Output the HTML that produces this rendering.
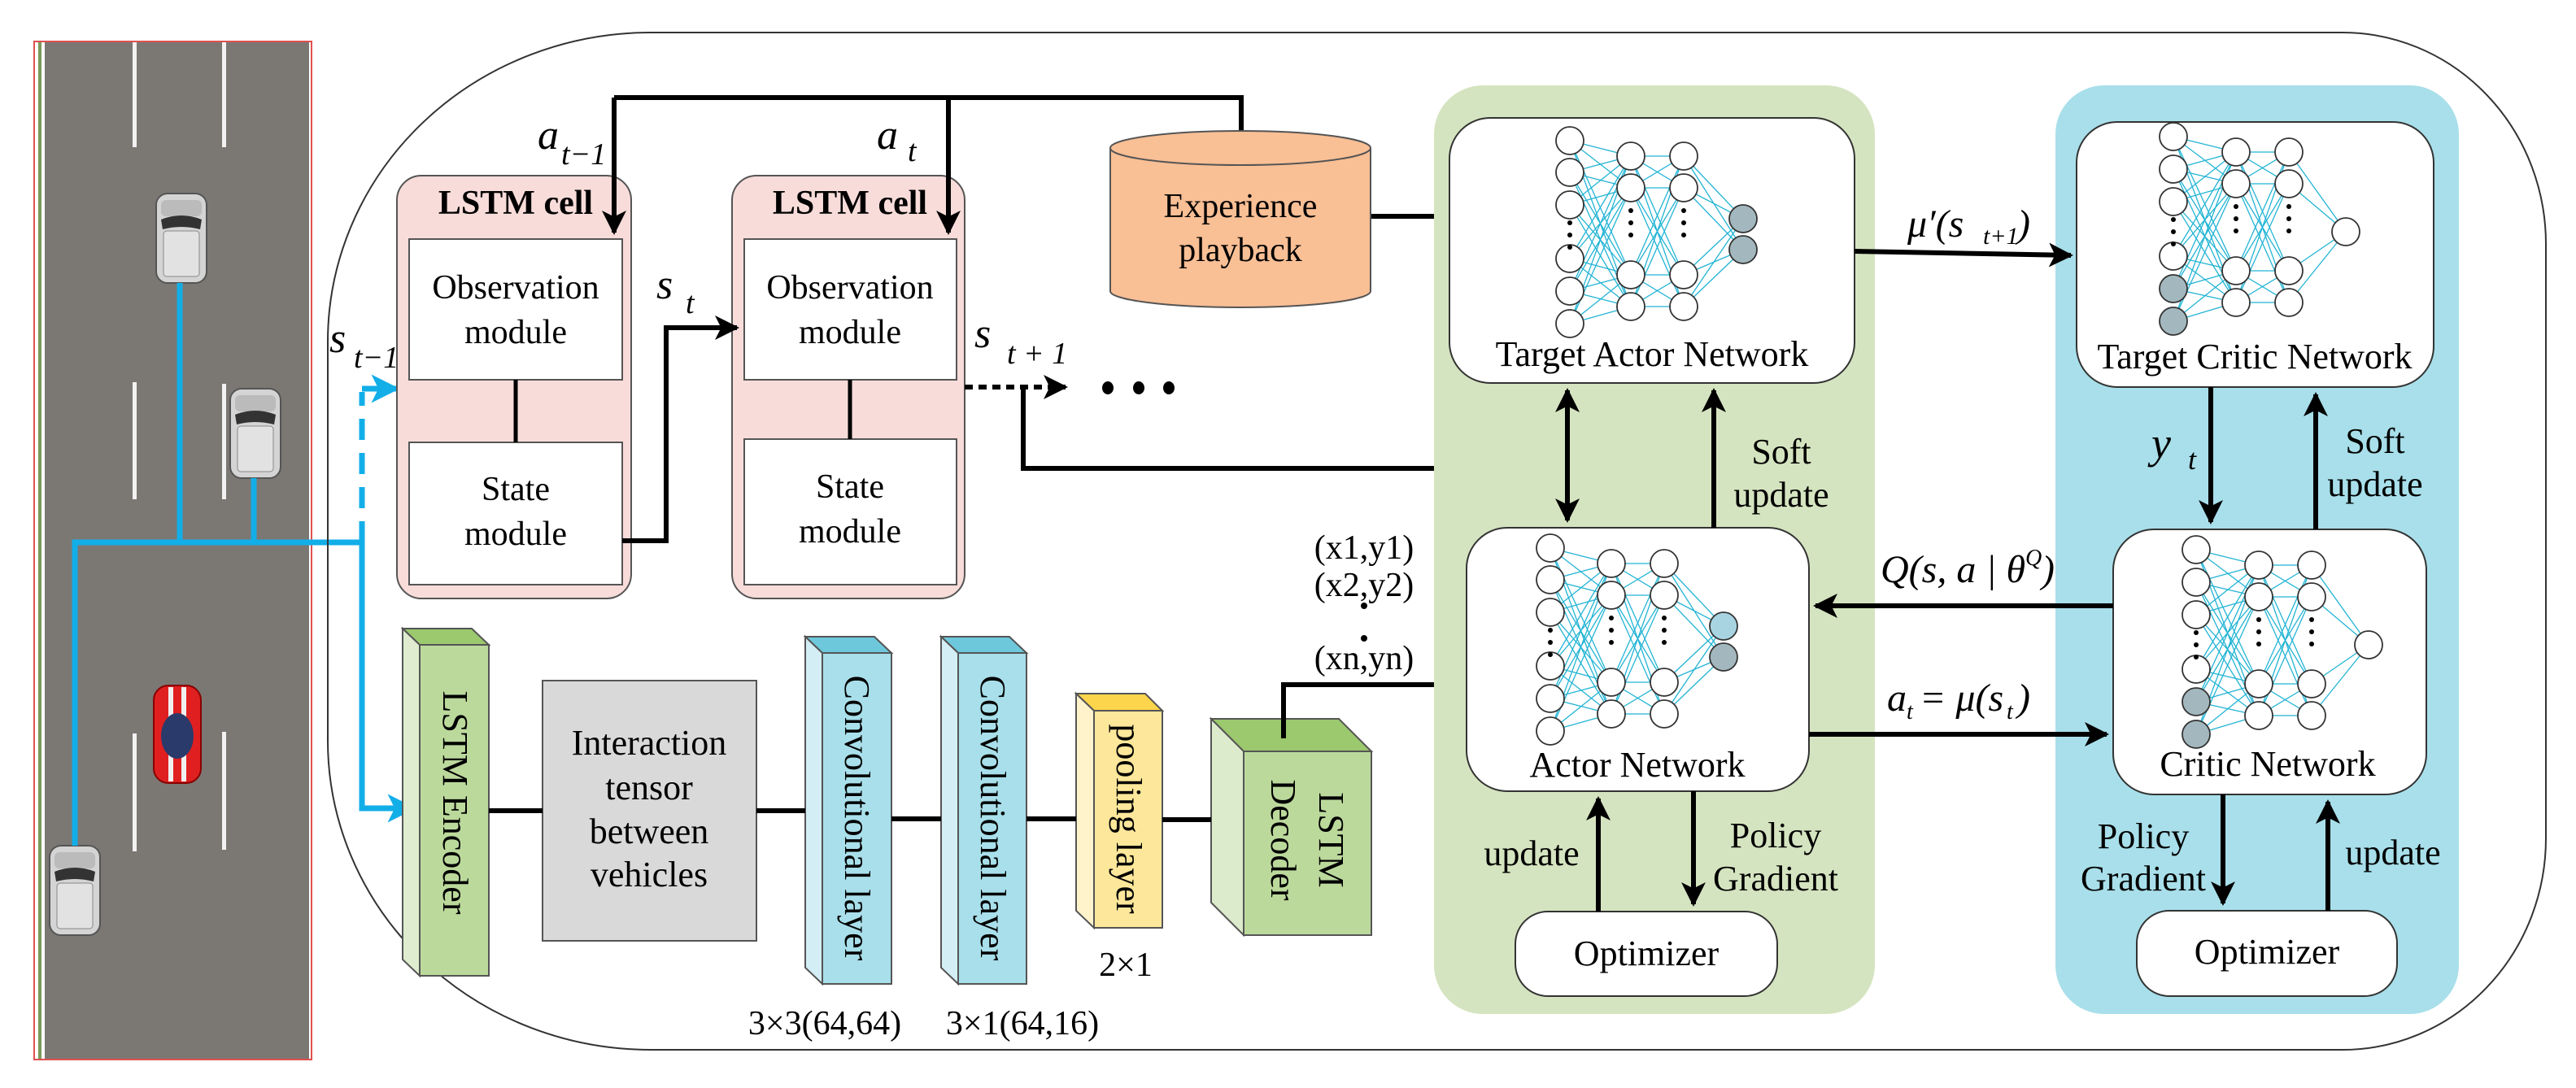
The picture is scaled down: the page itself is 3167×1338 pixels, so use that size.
<!DOCTYPE html>
<html><head><meta charset="utf-8"><style>
html,body{margin:0;padding:0;background:#fff;font-family:"Liberation Serif",serif;}
svg{display:block;font-family:"Liberation Serif",serif;}
svg text, svg tspan{font-family:"Liberation Serif",serif !important;fill:#000;}
.it{font-style:italic;}
</style></head><body>
<svg id="s" width="3167" height="1338" viewBox="0 0 3167 1338" xmlns="http://www.w3.org/2000/svg" font-family="Liberation Serif, serif">
<defs>
<marker id="ah" viewBox="0 0 10 10" refX="9" refY="5" markerWidth="5" markerHeight="5" orient="auto" markerUnits="strokeWidth"><path d="M0,0 L10,5 L0,10 L2.5,5 z" fill="#000"/></marker>
<marker id="ahb" viewBox="0 0 10 10" refX="9" refY="5" markerWidth="5" markerHeight="5" orient="auto" markerUnits="strokeWidth"><path d="M0,0 L10,5 L0,10 L2.5,5 z" fill="#12aee8"/></marker>
<g id="car">
<rect x="0" y="0" width="62" height="110" rx="14" fill="#d4d4d4" stroke="#555" stroke-width="2"/>
<rect x="6" y="8" width="50" height="20" rx="6" fill="#bbb"/>
<path d="M6,32 Q31,22 56,32 L54,44 Q31,38 8,44 z" fill="#333"/>
<rect x="9" y="46" width="44" height="56" rx="4" fill="#e2e2e2" stroke="#888" stroke-width="1"/>
</g>
</defs>

<rect x="42" y="51" width="341" height="1252" fill="#fff" stroke="#e05050" stroke-width="2"/>
<rect x="47" y="52" width="4" height="1250" fill="#7a9a5a"/>
<rect x="55" y="52" width="325" height="1250" fill="#7b7874"/>
<g fill="#f2f2f2">
<rect x="163" y="52" width="5" height="129"/><rect x="273" y="52" width="5" height="129"/>
<rect x="163" y="470" width="5" height="144"/><rect x="273" y="472" width="5" height="142"/>
<rect x="163" y="902" width="5" height="145"/><rect x="273" y="900" width="5" height="145"/>
</g>
<use href="#car" x="192" y="238"/>
<use href="#car" x="283" y="478"/>
<use href="#car" x="61" y="1040"/>
<g>
<rect x="189" y="843" width="58" height="120" rx="18" fill="#e02020" stroke="#800" stroke-width="2"/>
<rect x="207" y="845" width="6" height="116" fill="#f0f0f0"/><rect x="223" y="845" width="6" height="116" fill="#f0f0f0"/>
<ellipse cx="218" cy="905" rx="20" ry="28" fill="#2a3a6a"/>
</g>

<g stroke="#12aee8" stroke-width="7" fill="none">
<path d="M221,348 V667 M312,588 V667 M92,1040 V667 H445 V994 H505" />
<path d="M505,994 H508" marker-end="url(#ahb)"/>
<path d="M445,667 V482" stroke-dasharray="26,16"/>
<path d="M445,478 H488" marker-end="url(#ahb)"/>
</g>

<path d="M800,40 H2880 A250,260 0 0 1 3130,300 V1030 A250,260 0 0 1 2880,1291 H800 A397,380 0 0 1 403,911 V420 A397,380 0 0 1 800,40 z" fill="none" stroke="#333" stroke-width="2"/>

<g stroke="#555" stroke-width="2">
<rect x="488" y="216" width="288" height="520" rx="30" fill="#f7dcda"/>
<rect x="503" y="294" width="262" height="173" fill="#fff"/>
<rect x="503" y="544" width="262" height="175" fill="#fff"/>
<rect x="900" y="216" width="286" height="520" rx="30" fill="#f7dcda"/>
<rect x="915" y="294" width="261" height="173" fill="#fff"/>
<rect x="915" y="540" width="261" height="179" fill="#fff"/>
</g>
<g stroke="#000" stroke-width="5"><path d="M634,467 V544 M1045,467 V540"/></g>
<g font-size="42" text-anchor="middle">
<text x="634" y="263" font-weight="bold">LSTM cell</text>
<text x="1045" y="263" font-weight="bold">LSTM cell</text>
<text x="634" y="367">Observation</text><text x="634" y="422">module</text>
<text x="634" y="615">State</text><text x="634" y="670">module</text>
<text x="1045" y="367">Observation</text><text x="1045" y="422">module</text>
<text x="1045" y="612">State</text><text x="1045" y="667">module</text>
</g>

<g stroke="#000" stroke-width="6" fill="none">
<path d="M755,120 H1526 V162"/>
<path d="M755,120 V286" marker-end="url(#ah)"/>
<path d="M1166,120 V286" marker-end="url(#ah)"/>
<path d="M765,665 H819 V403 H906" marker-end="url(#ah)"/>
<path d="M1186,476 H1310" stroke-dasharray="10,7" marker-end="url(#ah)"/>
<path d="M1258,476 V576 H1927"/>
<path d="M1685,266 H1782"/>
</g>
<g fill="#000"><ellipse cx="1362" cy="477" rx="7" ry="8"/><ellipse cx="1400" cy="477" rx="7" ry="8"/><ellipse cx="1437" cy="477" rx="7" ry="8"/></g>

<g font-size="52" class="it">
<text x="661" y="183" class="it">a</text><text x="690" y="202" font-size="38" class="it">t−1</text>
<text x="1078" y="183" class="it">a</text><text x="1116" y="198" font-size="38" class="it">t</text>
<text x="807" y="367" class="it">s</text><text x="843" y="385" font-size="38" class="it">t</text>
<text x="405" y="433" class="it">s</text><text x="435" y="452" font-size="38" class="it">t−1</text>
<text x="1198" y="427" class="it">s</text><text x="1238" y="447" font-size="38" class="it">t + 1</text>
</g>

<path d="M1365,182 V358 A160,20 0 0 0 1685,358 V182" fill="#f9bf95" stroke="#555" stroke-width="2"/>
<ellipse cx="1525" cy="182" rx="160" ry="21" fill="#f9bf95" stroke="#555" stroke-width="2"/>
<g font-size="42" text-anchor="middle"><text x="1525" y="267">Experience</text><text x="1525" y="321">playback</text></g>

<g stroke="#555" stroke-width="2">
<polygon points="495,773 580,773 601,793 516,793" fill="#9cc86e"/>
<polygon points="495,773 516,793 516,1200 495,1180" fill="#dfeccf"/>
<rect x="516" y="793" width="85" height="407" fill="#bcd99c"/>
<rect x="667" y="837" width="263" height="320" fill="#d9d9d9"/>
<polygon points="990,783 1075,783 1096,803 1011,803" fill="#6ec8dc"/>
<polygon points="990,783 1011,803 1011,1210 990,1190" fill="#d3eef5"/>
<rect x="1011" y="803" width="85" height="407" fill="#a8dfea"/>
<polygon points="1157,783 1241,783 1262,803 1178,803" fill="#6ec8dc"/>
<polygon points="1157,783 1178,803 1178,1210 1157,1190" fill="#d3eef5"/>
<rect x="1178" y="803" width="84" height="407" fill="#a8dfea"/>
<polygon points="1323,853 1408,853 1429,874 1345,874" fill="#fcd54c"/>
<polygon points="1323,853 1345,874 1345,1141 1323,1120" fill="#fff3cc"/>
<rect x="1345" y="874" width="84" height="267" fill="#fde79a"/>
<polygon points="1489,884 1646,884 1686,924 1529,924" fill="#9cc86e"/>
<polygon points="1489,884 1529,924 1529,1150 1489,1110" fill="#dcebcb"/>
<rect x="1529" y="924" width="157" height="226" fill="#bcd99c"/>
</g>
<g stroke="#000" stroke-width="6" fill="none">
<path d="M601,997 H667 M930,997 H990 M1096,1007 H1157 M1262,1007 H1323 M1429,1008 H1489"/>
<path d="M1578,908 V842 H1797" marker-end="url(#ah)"/>
</g>
<g font-size="44" text-anchor="middle">
<text x="798" y="928">Interaction</text><text x="798" y="983">tensor</text><text x="798" y="1037">between</text><text x="798" y="1090">vehicles</text>
<text transform="translate(545,987) rotate(90)">LSTM Encoder</text>
<text transform="translate(1039,1006) rotate(90)">Convolutional layer</text>
<text transform="translate(1206,1006) rotate(90)">Convolutional layer</text>
<text transform="translate(1373,1007) rotate(90)">pooling layer</text>
<text transform="translate(1622,1033) rotate(90)">LSTM</text>
<text transform="translate(1563,1033) rotate(90)">Decoder</text>
<text x="1384" y="1200" font-size="42">2×1</text>
<text x="1014" y="1272" font-size="42">3×3(64,64)</text>
<text x="1257" y="1272" font-size="42">3×1(64,16)</text>
<text x="1677" y="687" font-size="42">(x1,y1)</text>
<text x="1677" y="733" font-size="42">(x2,y2)</text>
<text x="1677" y="823" font-size="42">(xn,yn)</text>
</g>
<g fill="#000"><circle cx="1677" cy="745" r="4"/><circle cx="1677" cy="785" r="4"/></g>

<rect x="1763" y="105" width="542" height="1142" rx="60" fill="#d5e4c0"/>
<rect x="2527" y="105" width="496" height="1142" rx="60" fill="#a8dfea"/>
<g fill="#fff" stroke="#333" stroke-width="2">
<rect x="1782" y="145" width="498" height="326" rx="50"/>
<rect x="1803" y="649" width="421" height="324" rx="50"/>
<rect x="1863" y="1121" width="322" height="104" rx="40"/>
<rect x="2553" y="150" width="439" height="326" rx="50"/>
<rect x="2598" y="651" width="385" height="326" rx="50"/>
<rect x="2627" y="1120" width="320" height="105" rx="40"/>
</g>
<g id="nets"></g>
<g font-size="44" text-anchor="middle">
<text x="2031" y="450">Target Actor Network</text>
<text x="2013" y="955">Actor Network</text>
<text x="2024" y="1187">Optimizer</text>
<text x="2772" y="453">Target Critic Network</text>
<text x="2788" y="954">Critic Network</text>
<text x="2787" y="1185">Optimizer</text>
<text x="2190" y="570">Soft</text><text x="2190" y="623">update</text>
<text x="1883" y="1064">update</text>
<text x="2183" y="1042">Policy</text><text x="2183" y="1095">Gradient</text>
<text x="2920" y="557">Soft</text><text x="2920" y="610">update</text>
<text x="2635" y="1043">Policy</text><text x="2635" y="1095">Gradient</text>
<text x="2942" y="1063">update</text>
</g>
<g stroke="#000" stroke-width="6" fill="none">
<path d="M1927,560 V480" marker-end="url(#ah)"/>
<path d="M1927,560 V640" marker-end="url(#ah)"/>
<path d="M2107,649 V480" marker-end="url(#ah)"/>
<path d="M1965,1121 V982" marker-end="url(#ah)"/>
<path d="M2082,973 V1112" marker-end="url(#ah)"/>
<path d="M2280,309 L2546,314" marker-end="url(#ah)"/>
<path d="M2598,745 H2232" marker-end="url(#ah)"/>
<path d="M2224,903 H2590" marker-end="url(#ah)"/>
<path d="M2718,476 V642" marker-end="url(#ah)"/>
<path d="M2847,651 V485" marker-end="url(#ah)"/>
<path d="M2733,977 V1111" marker-end="url(#ah)"/>
<path d="M2862,1120 V986" marker-end="url(#ah)"/>
</g>
<g class="it" font-size="48">
<text x="2345" y="291" class="it">μ′(s</text><text x="2438" y="300" font-size="30" class="it">t+1</text><text x="2480" y="291" class="it">)</text>
<text x="2312" y="716" class="it">Q(s, a | θ</text><text x="2490" y="695" font-size="28" class="it">Q</text><text x="2510" y="716" class="it">)</text>
<text x="2320" y="874" class="it">a</text><text x="2344" y="884" font-size="28" class="it">t</text><text x="2360" y="874" class="it">= μ(s</text><text x="2467" y="884" font-size="28" class="it">t</text><text x="2480" y="874" class="it">)</text>
<text x="2645" y="563" font-size="54" class="it">y</text><text x="2690" y="577" font-size="36" class="it">t</text>
</g>
</svg>
<script>
(function(){
var NS="http://www.w3.org/2000/svg",g=document.getElementById("nets");
function el(n,a){var e=document.createElementNS(NS,n);for(var k in a)e.setAttribute(k,a[k]);g.appendChild(e);return e;}
function net(ox,oy,critic,actorLight){
 var inY=critic?[0,40,80,147,187,227]:[0,39,79,145,185,225];
 var c2=critic?77:75,c3=critic?142:140,hy=[19,58,165,204];
 var outs=critic?[[212,117]]:[[213,96],[213,134]];
 var d="";
 inY.forEach(function(a){hy.forEach(function(b){d+="M"+(ox)+","+(oy+a)+"L"+(ox+c2)+","+(oy+b);});});
 hy.forEach(function(a){hy.forEach(function(b){d+="M"+(ox+c2)+","+(oy+a)+"L"+(ox+c3)+","+(oy+b);});});
 hy.forEach(function(a){outs.forEach(function(o){d+="M"+(ox+c3)+","+(oy+a)+"L"+(ox+o[0])+","+(oy+o[1]);});});
 el("path",{d:d,stroke:"#22b4d4","stroke-width":"1.3",fill:"none"});
 inY.forEach(function(a,i){el("circle",{cx:ox,cy:oy+a,r:17,fill:(critic&&i>=4)?"#a3b8be":"#fff",stroke:"#333","stroke-width":"1.8"});});
 [c2,c3].forEach(function(x){hy.forEach(function(a){el("circle",{cx:ox+x,cy:oy+a,r:17,fill:"#fff",stroke:"#333","stroke-width":"1.8"});});});
 outs.forEach(function(o,i){var f=critic?"#fff":(actorLight&&i==0?"#a8d4e2":"#a3b8be");el("circle",{cx:ox+o[0],cy:oy+o[1],r:17,fill:f,stroke:"#333","stroke-width":"1.8"});});
 [[0,inY[2]+22],[c2,hy[1]+28],[c3,hy[1]+28]].forEach(function(p){for(var k=0;k<3;k++)el("circle",{cx:ox+p[0],cy:oy+p[1]+k*15,r:3,fill:"#000"});});
}
net(1930,173,false,false);
net(1906,674,false,true);
net(2672,168,true);
net(2700,676,true);
})();
</script>
</body></html>
